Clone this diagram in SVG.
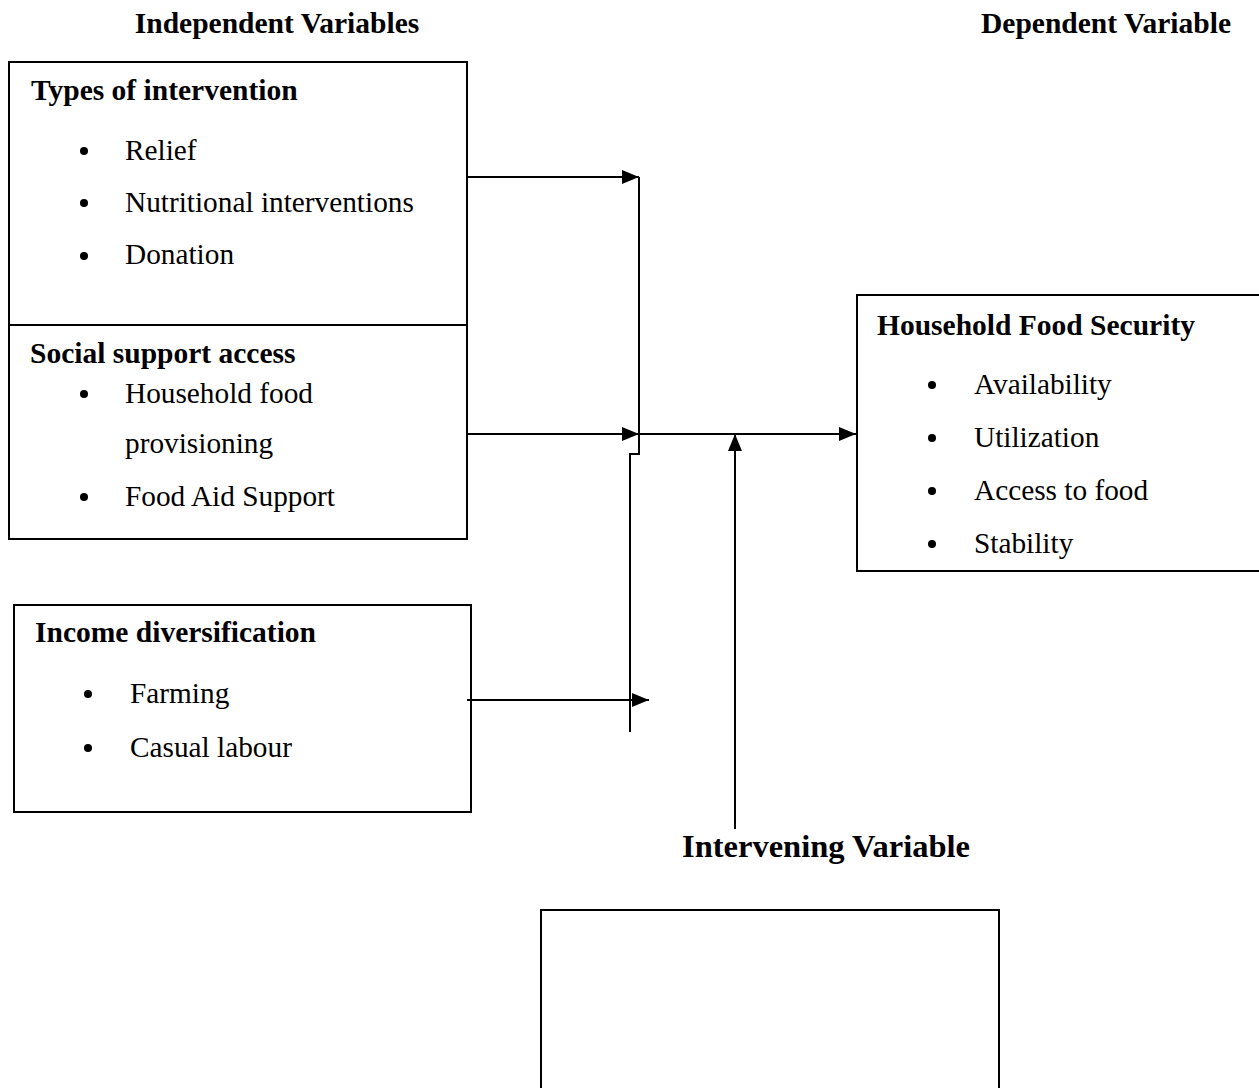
<svg xmlns="http://www.w3.org/2000/svg" width="1259" height="1088" viewBox="0 0 1259 1088">
<style>
text{font-family:"Liberation Serif","Times New Roman",serif;fill:#000}
.h{font-weight:bold;font-size:29.5px}
.t{font-size:29.3px}
.big{font-weight:bold;font-size:32.5px}
.box{fill:#fff;stroke:#000;stroke-width:2}
.c{fill:none;stroke:#000;stroke-width:2}
</style>
<defs>
<marker id="ah" markerWidth="18" markerHeight="14" refX="17" refY="7" orient="auto" markerUnits="userSpaceOnUse">
<path d="M0,0 L17,7 L0,14 Z" fill="#000"/>
</marker>
</defs>
<rect width="1259" height="1088" fill="#fff"/>
<text class="h" x="277" y="33" text-anchor="middle">Independent Variables</text>
<text class="h" x="1106" y="33" text-anchor="middle">Dependent Variable</text>
<g id="types">
<rect class="box" x="9" y="62" width="458" height="263"/>
<text class="h" x="31" y="100">Types of intervention</text>
<circle cx="84" cy="151" r="4"/><text class="t" x="125" y="160">Relief</text>
<circle cx="84" cy="203" r="4"/><text class="t" x="125" y="212">Nutritional interventions</text>
<circle cx="84" cy="256" r="4"/><text class="t" x="125" y="264">Donation</text>
</g>
<g id="social">
<rect class="box" x="9" y="325" width="458" height="214"/>
<text class="h" x="30" y="363">Social support access</text>
<circle cx="84" cy="394" r="4"/><text class="t" x="125" y="403">Household food</text>
<text class="t" x="125" y="453">provisioning</text>
<circle cx="84" cy="497" r="4"/><text class="t" x="125" y="506">Food Aid Support</text>
</g>
<g id="income">
<rect class="box" x="14" y="605" width="457" height="207"/>
<text class="h" x="35" y="642">Income diversification</text>
<circle cx="88" cy="694" r="4"/><text class="t" x="130" y="703">Farming</text>
<circle cx="88" cy="748" r="4"/><text class="t" x="130" y="757">Casual labour</text>
</g>
<g id="hfs">
<rect class="box" x="857" y="295" width="410" height="276"/>
<text class="h" x="877" y="335">Household Food Security</text>
<circle cx="932" cy="385" r="4"/><text class="t" x="974" y="394">Availability</text>
<circle cx="932" cy="438" r="4"/><text class="t" x="974" y="447">Utilization</text>
<circle cx="932" cy="491" r="4"/><text class="t" x="974" y="500">Access to food</text>
<circle cx="932" cy="544" r="4"/><text class="t" x="974" y="553">Stability</text>
</g>
<g id="intervening">
<text class="big" x="826" y="857" text-anchor="middle">Intervening Variable</text>
<rect class="box" x="541" y="910" width="458" height="190"/>
</g>
<g id="connectors">
<path class="c" d="M639,177 V454 H630 V732"/>
<line class="c" x1="467" y1="177" x2="639" y2="177" marker-end="url(#ah)"/>
<line class="c" x1="467" y1="434" x2="639" y2="434" marker-end="url(#ah)"/>
<line class="c" x1="639" y1="434" x2="856" y2="434" marker-end="url(#ah)"/>
<line class="c" x1="467" y1="700" x2="649" y2="700" marker-end="url(#ah)"/>
<line class="c" x1="735" y1="829" x2="735" y2="434" marker-end="url(#ah)"/>
</g>
</svg>
